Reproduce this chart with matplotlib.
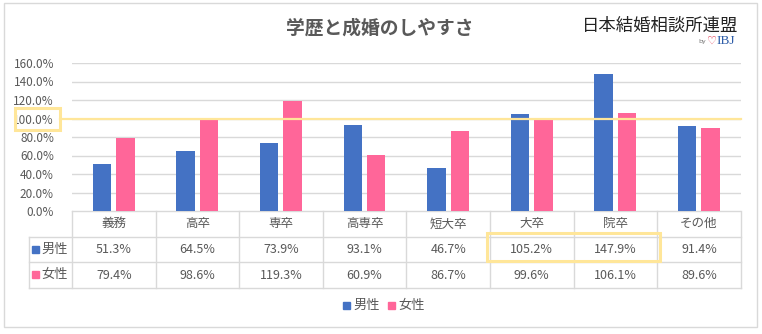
import matplotlib
matplotlib.use('Agg')
import matplotlib.pyplot as plt
import matplotlib.patches as patches
import numpy as np

plt.rcParams['font.family'] = ['Noto Sans CJK JP', 'DejaVu Sans']

categories = ['義務', '高卒', '専卒', '高専卒', '短大卒', '大卒', '院卒', 'その他']
male = [51.3, 64.5, 73.9, 93.1, 46.7, 105.2, 147.9, 91.4]
female = [79.4, 98.6, 119.3, 60.9, 86.7, 99.6, 106.1, 89.6]
series_names = ['男性', '女性']
colors = ['#4472C4', '#FF6699']
yticks = [0, 20, 40, 60, 80, 100, 120, 140, 160]

W, H = 762, 334
TXT = '#595959'
GRID = '#D9D9D9'
YEL = '#FFE699'


def fx(px):
    return px / W


def fy(py):
    return 1 - py / H


fig = plt.figure(figsize=(W / 100, H / 100), dpi=100)

# outer frame
fig.patches.append(patches.Rectangle((fx(4), fy(327)), fx(757) - fx(4), fy(3) - fy(327),
                                     transform=fig.transFigure, fill=False,
                                     edgecolor=GRID, lw=1))

# bars
ax = fig.add_axes([fx(72), fy(211), fx(740.7) - fx(72), fy(63) - fy(211)])
x = np.arange(len(categories))
ax.bar(x - 0.14, male, width=0.22, color=colors[0], zorder=3)
ax.bar(x + 0.14, female, width=0.22, color=colors[1], zorder=3)
ax.set_xlim(-0.5, len(categories) - 0.5)
ax.set_ylim(0, 160)
ax.set_yticks(yticks)
ax.set_yticklabels(['{:.1f}%'.format(v) for v in yticks])
ax.set_xticks([])
ax.tick_params(axis='y', length=0, pad=13, labelsize=8.5, labelcolor=TXT)
for s in ax.spines.values():
    s.set_visible(False)
ax.grid(axis='y', color=GRID, lw=1, zorder=0)
ax.axhline(100, xmin=-12 / 668.7, xmax=1, color=YEL, lw=1.6, zorder=4, clip_on=False)

# yellow box round 100%
fig.patches.append(patches.Rectangle((fx(15), fy(130)), fx(60) - fx(15), fy(108) - fy(130),
                                     transform=fig.transFigure, fill=False,
                                     edgecolor=YEL, lw=2.2))

fig.text(0.499, fy(28), '学歴と成婚のしやすさ', ha='center', va='center',
         fontsize=13.5, color=TXT, fontweight='bold')
fig.text(fx(738), fy(25.5), '日本結婚相談所連盟', ha='right', va='center',
         fontsize=12.5, color='#222222')
fig.text(fx(716.5), fy(41), 'IBJ', ha='left', va='center', fontsize=9.5,
         color='#2E5DA8', family='Liberation Serif')
fig.text(fx(717), fy(40.5), '♡', ha='right', va='center', fontsize=8,
         color='#E0304A', family='DejaVu Sans')
fig.text(fx(706.5), fy(41), 'by', ha='right', va='center', fontsize=4.5,
         color='#777777', family='DejaVu Sans')

# data table
left_ext = (72 - 28.7) / ((740.7 - 72) / len(categories))
tx = fig.add_axes([fx(28.7), fy(288), fx(740.7) - fx(28.7), fy(211) - fy(288)])
tx.set_xlim(-0.5 - left_ext, len(categories) - 0.5)
tx.set_ylim(3, 0)
tx.axis('off')
lab_l = -0.5 - left_ext
right = len(categories) - 0.5
tx.plot([-0.5, right], [0, 0], color=GRID, lw=1)
for yy in [1, 2, 3]:
    tx.plot([lab_l, right], [yy, yy], color=GRID, lw=1, clip_on=False)
tx.plot([lab_l, lab_l], [1, 3], color=GRID, lw=1, clip_on=False)
for xx in np.arange(len(categories) + 1) - 0.5:
    tx.plot([xx, xx], [0, 3], color=GRID, lw=1, clip_on=False)

for i, c in enumerate(categories):
    tx.text(i, 0.5, c, ha='center', va='center', fontsize=9, color=TXT)
    tx.text(i, 1.5, '{:.1f}%'.format(male[i]), ha='center', va='center', fontsize=9, color=TXT)
    tx.text(i, 2.5, '{:.1f}%'.format(female[i]), ha='center', va='center', fontsize=9, color=TXT)

for r, (name, col) in enumerate(zip(series_names, colors)):
    yc = 249 + r * 25.7
    fig.patches.append(patches.Rectangle((fx(32.3), fy(yc + 3.5)), 7 / W, 7 / H,
                                         transform=fig.transFigure, color=col))
    fig.text(fx(41.5), fy(yc), name, ha='left', va='center',
             fontsize=9.5, color=TXT)

tx.add_patch(patches.Rectangle((4.47, 0.86), 2.06, 1.09, fill=False,
                               edgecolor=YEL, lw=2.2, clip_on=False, zorder=5))

# legend
for px, name, col in [(343, series_names[0], colors[0]), (388, series_names[1], colors[1])]:
    fig.patches.append(patches.Rectangle((fx(px), fy(309)), 7 / W, 7 / H,
                                         transform=fig.transFigure, color=col))
    fig.text(fx(px + 10), fy(305), name, ha='left', va='center', fontsize=9.5, color=TXT)

fig.savefig('out.png', dpi=100)
